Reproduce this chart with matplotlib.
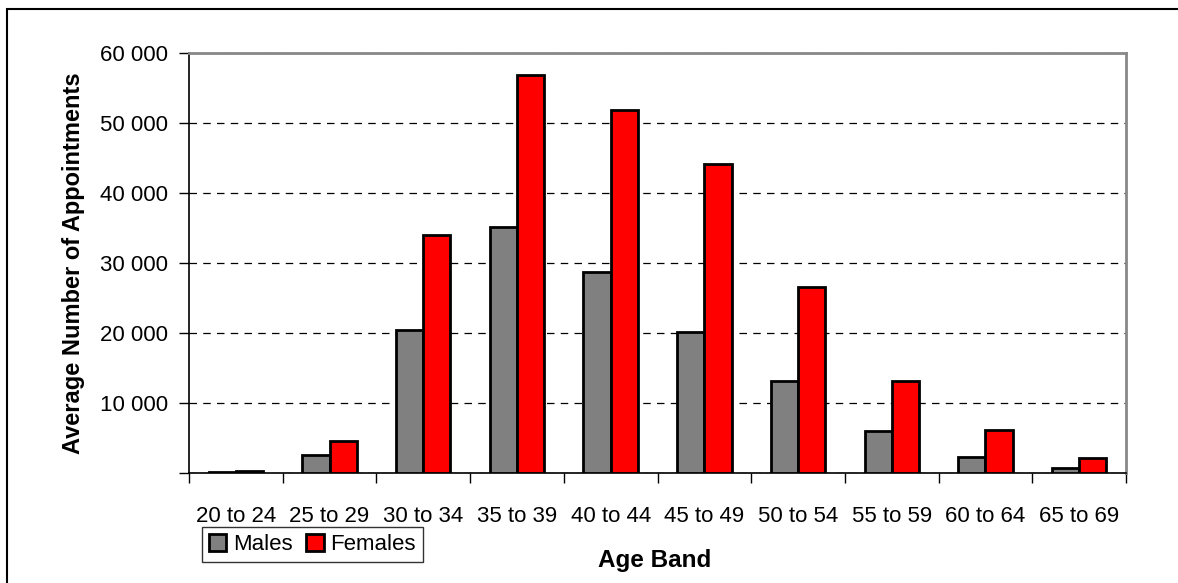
from matplotlib import pyplot as plt
from matplotlib.patches import Rectangle
from matplotlib.ticker import FuncFormatter, FixedLocator
import numpy as np

age_bands = ["20 to 24", "25 to 29", "30 to 34", "35 to 39", "40 to 44",
             "45 to 49", "50 to 54", "55 to 59", "60 to 64", "65 to 69"]
males = [80, 2600, 20500, 35100, 28700, 20100, 13100, 6000, 2300, 700]
females = [250, 4600, 34000, 56900, 51800, 44200, 26600, 13200, 6200, 2100]

if __name__ == "__main__":
    plt.rcParams['font.family'] = ['Liberation Sans Narrow', 'Liberation Sans', 'DejaVu Sans']

    fig = plt.figure(figsize=(11.78, 5.83), dpi=100)
    ax = fig.add_axes([189 / 1178, 1 - 473 / 583, 937 / 1178, 420 / 583])

    x = np.arange(len(age_bands))
    w = 0.29
    ax.bar(x - w / 2, males, w, color="#808080", edgecolor="black", linewidth=2,
           label="Males", zorder=3)
    ax.bar(x + w / 2, females, w, color="#ff0000", edgecolor="black", linewidth=2,
           label="Females", zorder=3)

    ax.set_xlim(-0.5, len(age_bands) - 0.5)
    ax.set_ylim(0, 60000)
    ax.set_yticks(np.arange(0, 60001, 10000))
    ax.yaxis.set_major_formatter(
        FuncFormatter(lambda v, p: "" if v == 0 else f"{int(v):,}".replace(",", " ")))
    ax.yaxis.grid(True, linestyle=(0, (6, 5)), color="black", linewidth=0.9, zorder=0)

    # category ticks between groups, labels centred on groups
    ax.xaxis.set_major_locator(FixedLocator(np.arange(-0.5, len(age_bands), 1.0)))
    ax.xaxis.set_major_formatter(FuncFormatter(lambda v, p: ""))
    ax.set_xticks(x, minor=True)
    ax.set_xticklabels(age_bands, minor=True)
    ax.tick_params(axis="x", which="minor", length=0, pad=24, labelsize=16)
    ax.tick_params(axis="x", which="major", length=7, width=1, direction="out")
    ax.tick_params(axis="y", length=7, width=1, direction="out", labelsize=16, pad=8)

    for s in ["top", "right"]:
        ax.spines[s].set_color("#888888")
        ax.spines[s].set_linewidth(2)
    for s in ["left", "bottom"]:
        ax.spines[s].set_color("black")
        ax.spines[s].set_linewidth(1.2)

    ax.set_ylabel("Average Number of Appointments", fontsize=17, fontweight="bold",
                  labelpad=11)
    fig.text(655 / 1178, 1 - 560 / 583, "Age Band", fontsize=17.5, fontweight="bold",
             ha="center", va="center")

    fig.legend(loc="upper left", bbox_to_anchor=(202 / 1178, 1 - 527 / 583),
               ncol=2, fontsize=16, frameon=True, fancybox=False, edgecolor="black",
               borderaxespad=0, handlelength=0.8, handleheight=0.8, handletextpad=0.3,
               columnspacing=0.6, borderpad=0.3)

    # outer chart border (bottom and right edges run past the image)
    top = 1 - 9 / 583
    fig.patches.append(Rectangle((7 / 1178, -0.1), 1.2, top + 0.1,
                                 transform=fig.transFigure, fill=False,
                                 edgecolor="black", linewidth=1.5))

    plt.savefig("out.png", dpi=100)
